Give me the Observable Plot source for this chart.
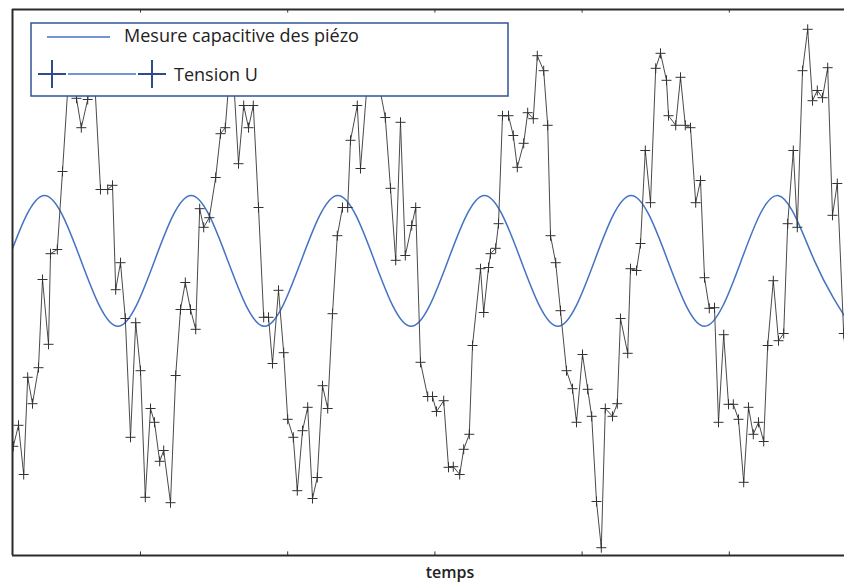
<!DOCTYPE html>
<html>
<head>
<meta charset="utf-8">
<script src="https://cdn.jsdelivr.net/npm/d3@7"></script>
<script src="https://cdn.jsdelivr.net/npm/@observablehq/plot@0.6"></script>
<style>
  html, body { margin: 0; padding: 0; background: #fff; }
  #wrap { position: relative; width: 844px; height: 584px; overflow: hidden; }
  #overlay { position: absolute; left: 0; top: 0; }
</style>
</head>
<body>
<div id="wrap"></div>
<script>
// "Tension U" samples (time, value)
const tensionT = [0.1,0.75,1.4,1.9,2.5,3.25,3.75,4.5,4.75,5.6,6.25,7.25,8,8.6,9.4,10.1,11,11.9,12.5,12.9,13.5,14.1,14.75,15.4,16,16.6,17.25,17.75,18.4,18.9,19.75,20.4,21,21.6,22.25,22.9,23.4,23.9,24.6,25.4,26,26.6,27.4,28.25,28.9,29.5,30.1,30.75,31.4,32,32.5,33.25,33.9,34.4,35.1,35.6,36.25,36.9,37.5,38.1,38.75,39.4,40,40.6,41.25,41.9,42.25,43.1,43.5,44.75,46.6,47.25,47.9,48.5,49.1,49.9,50.4,51,51.9,52.5,53,53.9,54.5,55.1,55.9,56.4,57.1,57.5,58.5,58.9,59.5,59.75,60.4,60.75,61.25,62,62.6,63.1,63.9,64.4,65.1,65.6,66.4,66.9,67.25,67.9,68.5,69.25,70,70.5,71.25,71.9,72.4,73,73.6,74.1,75,75.6,76,76.9,77.25,78,78.5,79.1,79.75,80.4,81,81.75,82,82.9,83.5,84.1,84.75,85.4,86,86.5,87.1,87.75,88.25,88.9,89.5,90.1,90.75,91.4,92,92.6,93.25,93.9,94.4,95.1,95.75,96.4,96.9,97.6,98.1,98.75,99.4,100,100.6,101.25,101.9,102.5,103.1,103.9,105];
const tensionV = [18.2,21.7,13.5,29.7,25.3,31.3,46,35.2,50.3,51,64,85,76.2,71.3,76,83.3,61,61,61.7,44.3,48.8,39.5,19.7,38.8,30.8,9.7,24.5,22.2,15.7,17.5,8.8,30,41,45.5,41,37.7,57.8,54.7,56.3,63,70.3,71.3,85,65.3,75,71.3,75,58,39.7,39.7,32,44.2,33.8,22.7,19.7,10.8,20.8,24.7,9.5,13,28.3,24.5,40.3,53.3,58,58,69.2,75,64.5,85.8,73,61.2,49.2,72.2,50,55,58,32.2,26.5,26.5,24,25.8,14.7,14.8,13.5,17.7,20.2,35,47.8,40.5,48,50.3,51.2,55.3,73.3,73.3,70,64.7,68.7,73.8,72.8,83.3,80.8,71.7,53.3,48.8,40.8,30.8,27.8,22.2,33.5,27.7,23.2,9,1.3,24.5,23.2,25.3,39.5,33.7,47.8,47.5,52,67.5,58.8,81.2,83.7,79.2,73.3,71.7,79.7,71.7,71.3,58.8,62.5,46.3,41.2,41.3,22.2,36.8,25.2,25.2,22.7,12.2,24.7,20.2,22.2,19,35,45.8,35.8,37,55.3,67.5,54.7,80.8,87.7,75.8,77.5,76.3,81.3,56.7,62,37,20];

// "Mesure capacitive des piézo" read at quarter periods
const sineT = [-0.58,4,8.58,13.17,17.75,22.33,26.92,31.5,36.08,40.67,45.25,49.83,54.42,59,63.58,68.17,72.75,77.33,81.92,86.5,91.08,95.67,100.25,104.83];
const sineV = [49.1,60,49.1,38.2,49.1,60,49.1,38.2,49.1,60,49.1,38.2,49.1,60,49.1,38.2,49.1,60,49.1,38.2,49.1,60,49.1,38.2];

const tickT = [16, 34.4, 52.8, 71.2, 89.6];
const seriesNames = ["Mesure capacitive des piézo", "Tension U"];
const xLabel = "temps";

const tension = tensionT.map((t, i) => ({t, v: tensionV[i]}));
const sine = sineT.map((t, i) => ({t, v: sineV[i]}));

const thinPlus = {
  draw(ctx, size) {
    const r = Math.sqrt(size / Math.PI);
    ctx.moveTo(-r, 0); ctx.lineTo(r, 0);
    ctx.moveTo(0, -r); ctx.lineTo(0, r);
  }
};

const chart = Plot.plot({
  width: 844,
  height: 560,
  marginTop: 9,
  marginBottom: 5,
  marginLeft: 12,
  marginRight: 0,
  x: {domain: [0, 104], axis: null},
  y: {domain: [0, 91], axis: null},
  marks: [
    Plot.line(sine, {x: "t", y: "v", stroke: "#4472c4", strokeWidth: 1.5, curve: "natural", clip: true}),
    Plot.line(tension, {x: "t", y: "v", stroke: "#4a4a4a", strokeWidth: 1, clip: true}),
    Plot.dot(tension, {x: "t", y: "v", symbol: thinPlus, r: 5, stroke: "#333", strokeWidth: 1, fill: "none", clip: true}),
    Plot.ruleX(tickT, {y1: 0, y2: 0.6, stroke: "#333"}),
    Plot.ruleX(tickT, {y1: 90.4, y2: 91, stroke: "#333"}),
    Plot.ruleY([0, 91], {stroke: "#2b2b2b", strokeWidth: 2}),
    Plot.ruleX([0], {stroke: "#2b2b2b", strokeWidth: 2})
  ]
});
const wrap = document.getElementById("wrap");
wrap.appendChild(chart);

// Legend + axis label overlay
const ns = "http://www.w3.org/2000/svg";
const ov = document.createElementNS(ns, "svg");
ov.setAttribute("id", "overlay");
ov.setAttribute("width", 844);
ov.setAttribute("height", 584);
ov.innerHTML = `
  <rect x="31" y="23" width="477" height="73" fill="#fff" stroke="#2f5597" stroke-width="1.5"/>
  <line x1="47" x2="110" y1="37" y2="37" stroke="#4472c4" stroke-width="1.5"/>
  <text x="124" y="42" font-family="Open Sans" font-size="18" fill="#222">${seriesNames[0]}</text>
  <line x1="68" x2="136" y1="74" y2="74" stroke="#4472c4" stroke-width="1.5"/>
  <path d="M38,74H66M52,60V88M138,74H166M152,60V88" stroke="#2f4b8a" stroke-width="2" fill="none"/>
  <text x="174" y="81" font-family="Open Sans" font-size="18" fill="#222">${seriesNames[1]}</text>
  <text x="450" y="578" text-anchor="middle" font-family="Open Sans" font-weight="600" font-size="16" fill="#222">${xLabel}</text>
`;
wrap.appendChild(ov);
</script>
</body>
</html>
